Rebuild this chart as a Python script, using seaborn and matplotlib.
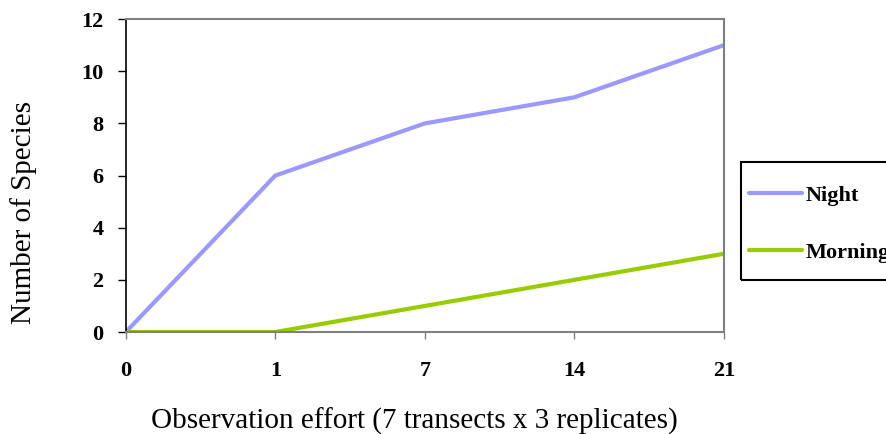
import pandas as pd
import seaborn as sns
import matplotlib.pyplot as plt
from matplotlib.patches import Rectangle

effort = ["0", "1", "7", "14", "21"]
night = [0, 6, 8, 9, 11]
morning = [0, 0, 1, 2, 3]

df = pd.DataFrame({
    "effort": effort * 2,
    "species": night + morning,
    "time": ["Night"] * len(effort) + ["Morning"] * len(effort),
})

sns.set_style("white")
plt.rcParams["font.family"] = ["Liberation Serif", "DejaVu Serif"]
plt.rcParams["text.color"] = "black"
plt.rcParams["axes.labelcolor"] = "black"
plt.rcParams["xtick.labelcolor"] = "black"
plt.rcParams["ytick.labelcolor"] = "black"

fig = plt.figure(figsize=(8.86, 4.34), dpi=100)
ax = fig.add_axes([0.142, 0.235, 0.675, 0.721])

sns.lineplot(data=df, x="effort", y="species", hue="time", sort=False,
             palette={"Night": "#9999FF", "Morning": "#99CC00"},
             linewidth=3.0, ax=ax, legend=False)

ax.set_xlim(0, 4)
ax.set_ylim(0, 12)
ax.set_yticks(range(0, 13, 2))
for s in ["top", "right", "bottom"]:
    ax.spines[s].set_color("#808080")
    ax.spines[s].set_linewidth(1.5)
ax.spines["left"].set_color("black")
ax.spines["left"].set_linewidth(1.2)
ax.tick_params(axis="y", direction="out", length=6, width=1, color="black",
               labelcolor="black", left=True, labelsize=16, pad=10)
ax.tick_params(axis="x", direction="out", length=5, width=1, color="#808080",
               labelcolor="black", bottom=True, labelsize=16, pad=16)
for lab in ax.get_xticklabels() + ax.get_yticklabels():
    lab.set_fontweight("bold")

ax.set_xlabel("Observation effort (7 transects x 3 replicates)", fontsize=21)
ax.set_ylabel("Number of Species", fontsize=21)
ax.xaxis.set_label_coords(0.483, -0.285)
ax.xaxis.label.set_va("center")
ax.yaxis.set_label_coords(-0.171, 0.383)
ax.yaxis.label.set_va("center")

# legend box sits partly outside the figure, like the original
fig.add_artist(Rectangle((741 / 886, 1 - 280 / 434), 0.2, 118 / 434,
                         transform=fig.transFigure, fill=False,
                         edgecolor="black", linewidth=1.5))
handles = ax.get_lines()[:2]
fig.legend(handles, ["Night", "Morning"], loc="upper left",
           bbox_to_anchor=(749 / 886, 1 - 185 / 434), frameon=False,
           prop={"weight": "bold", "size": 16}, handlelength=2.4,
           handletextpad=0.15, labelspacing=1.65, borderpad=0,
           borderaxespad=0)

plt.savefig("out.png", dpi=100)
